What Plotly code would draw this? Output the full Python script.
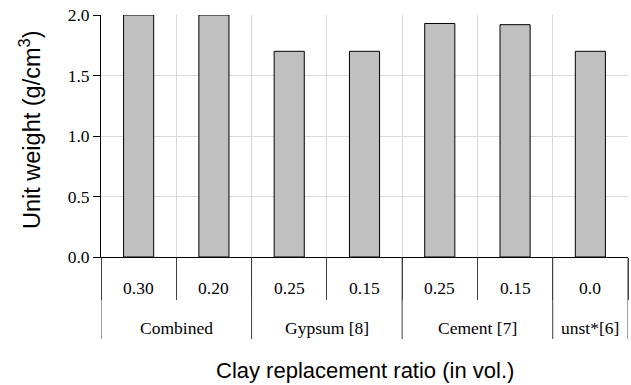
import plotly.graph_objects as go

groups = ["Combined", "Combined", "Gypsum [8]", "Gypsum [8]", "Cement [7]", "Cement [7]", "unst*[6]"]
ratios = ["0.30", "0.20", "0.25", "0.15", "0.25", "0.15", "0.0"]
unit_weight = [2.0, 2.0, 1.70, 1.70, 1.93, 1.92, 1.70]
y_ticks = [0.0, 0.5, 1.0, 1.5, 2.0]
y_tick_labels = ["0.0", "0.5", "1.0", "1.5", "2.0"]

n = len(ratios)
xpos = list(range(n))
boundaries = [i - 0.5 for i in range(n + 1)]

serif = "Liberation Serif, Times New Roman, serif"
sans = "Liberation Sans, Arial, sans-serif"

fig = go.Figure(go.Bar(
    x=xpos,
    y=unit_weight,
    width=0.4,
    marker=dict(color="#c0c0c0", line=dict(color="#000000", width=1)),
))

annotations = []
# ratio (sub-category) labels
for i, r in enumerate(ratios):
    annotations.append(dict(x=i, xref="x", y=0, yref="paper", yanchor="middle",
                            yshift=-31, text=r, showarrow=False,
                            font=dict(family=serif, size=17.5, color="#000000")))
# group labels and group dividers
shapes = []
group_spans = []
start = 0
for i in range(1, n + 1):
    if i == n or groups[i] != groups[start]:
        group_spans.append((groups[start], start, i - 1))
        start = i
div_pos = [boundaries[0]]
for name, s, e in group_spans:
    annotations.append(dict(x=(s + e) / 2, xref="x", y=0, yref="paper", yanchor="middle",
                            yshift=-71, text=name, showarrow=False,
                            font=dict(family=serif, size=17.5, color="#000000")))
    div_pos.append(e + 0.5)
for b in div_pos:
    shapes.append(dict(type="line", xref="x", x0=b, x1=b, yref="paper",
                       ysizemode="pixel", yanchor=0, y0=0, y1=-82,
                       line=dict(color="#404040", width=1)))

# axis titles
annotations.append(dict(x=0.5, xref="paper", y=0, yref="paper", yanchor="middle",
                        yshift=-113, text="Clay replacement ratio (in vol.)", showarrow=False,
                        font=dict(family=sans, size=22, color="#000000")))
annotations.append(dict(x=0, xref="paper", xshift=-71, y=0.5, yref="paper", yshift=6,
                        xanchor="center", yanchor="middle", textangle=-90,
                        text="Unit weight (g/cm<sup>3</sup>)", showarrow=False,
                        font=dict(family=sans, size=23.5, color="#000000")))

fig.update_layout(
    width=631, height=385,
    margin=dict(l=101, r=3, t=15, b=128),
    paper_bgcolor="white", plot_bgcolor="white",
    showlegend=False,
    xaxis=dict(
        range=[boundaries[0], boundaries[-1]],
        tickvals=boundaries, showticklabels=False,
        showline=True, linecolor="#000000", linewidth=1,
        ticks="outside", ticklen=42, tickcolor="#404040", tickwidth=1,
        showgrid=True, gridcolor="#d9d9d9", gridwidth=1,
        zeroline=False, automargin=False,
    ),
    yaxis=dict(
        range=[0, 2.0],
        tickvals=y_ticks, ticktext=y_tick_labels,
        showline=True, linecolor="#000000", linewidth=1,
        ticks="outside", ticklen=7, tickcolor="#000000",
        showgrid=True, gridcolor="#d9d9d9", gridwidth=1,
        zeroline=False, automargin=False,
        ticklabeloverflow="allow",
        tickfont=dict(family=serif, size=17.5, color="#000000"),
    ),
    annotations=annotations,
    shapes=shapes,
)

fig.write_html("out.html", config={"displayModeBar": False},
               post_script="document.body.style.margin='0px';")
